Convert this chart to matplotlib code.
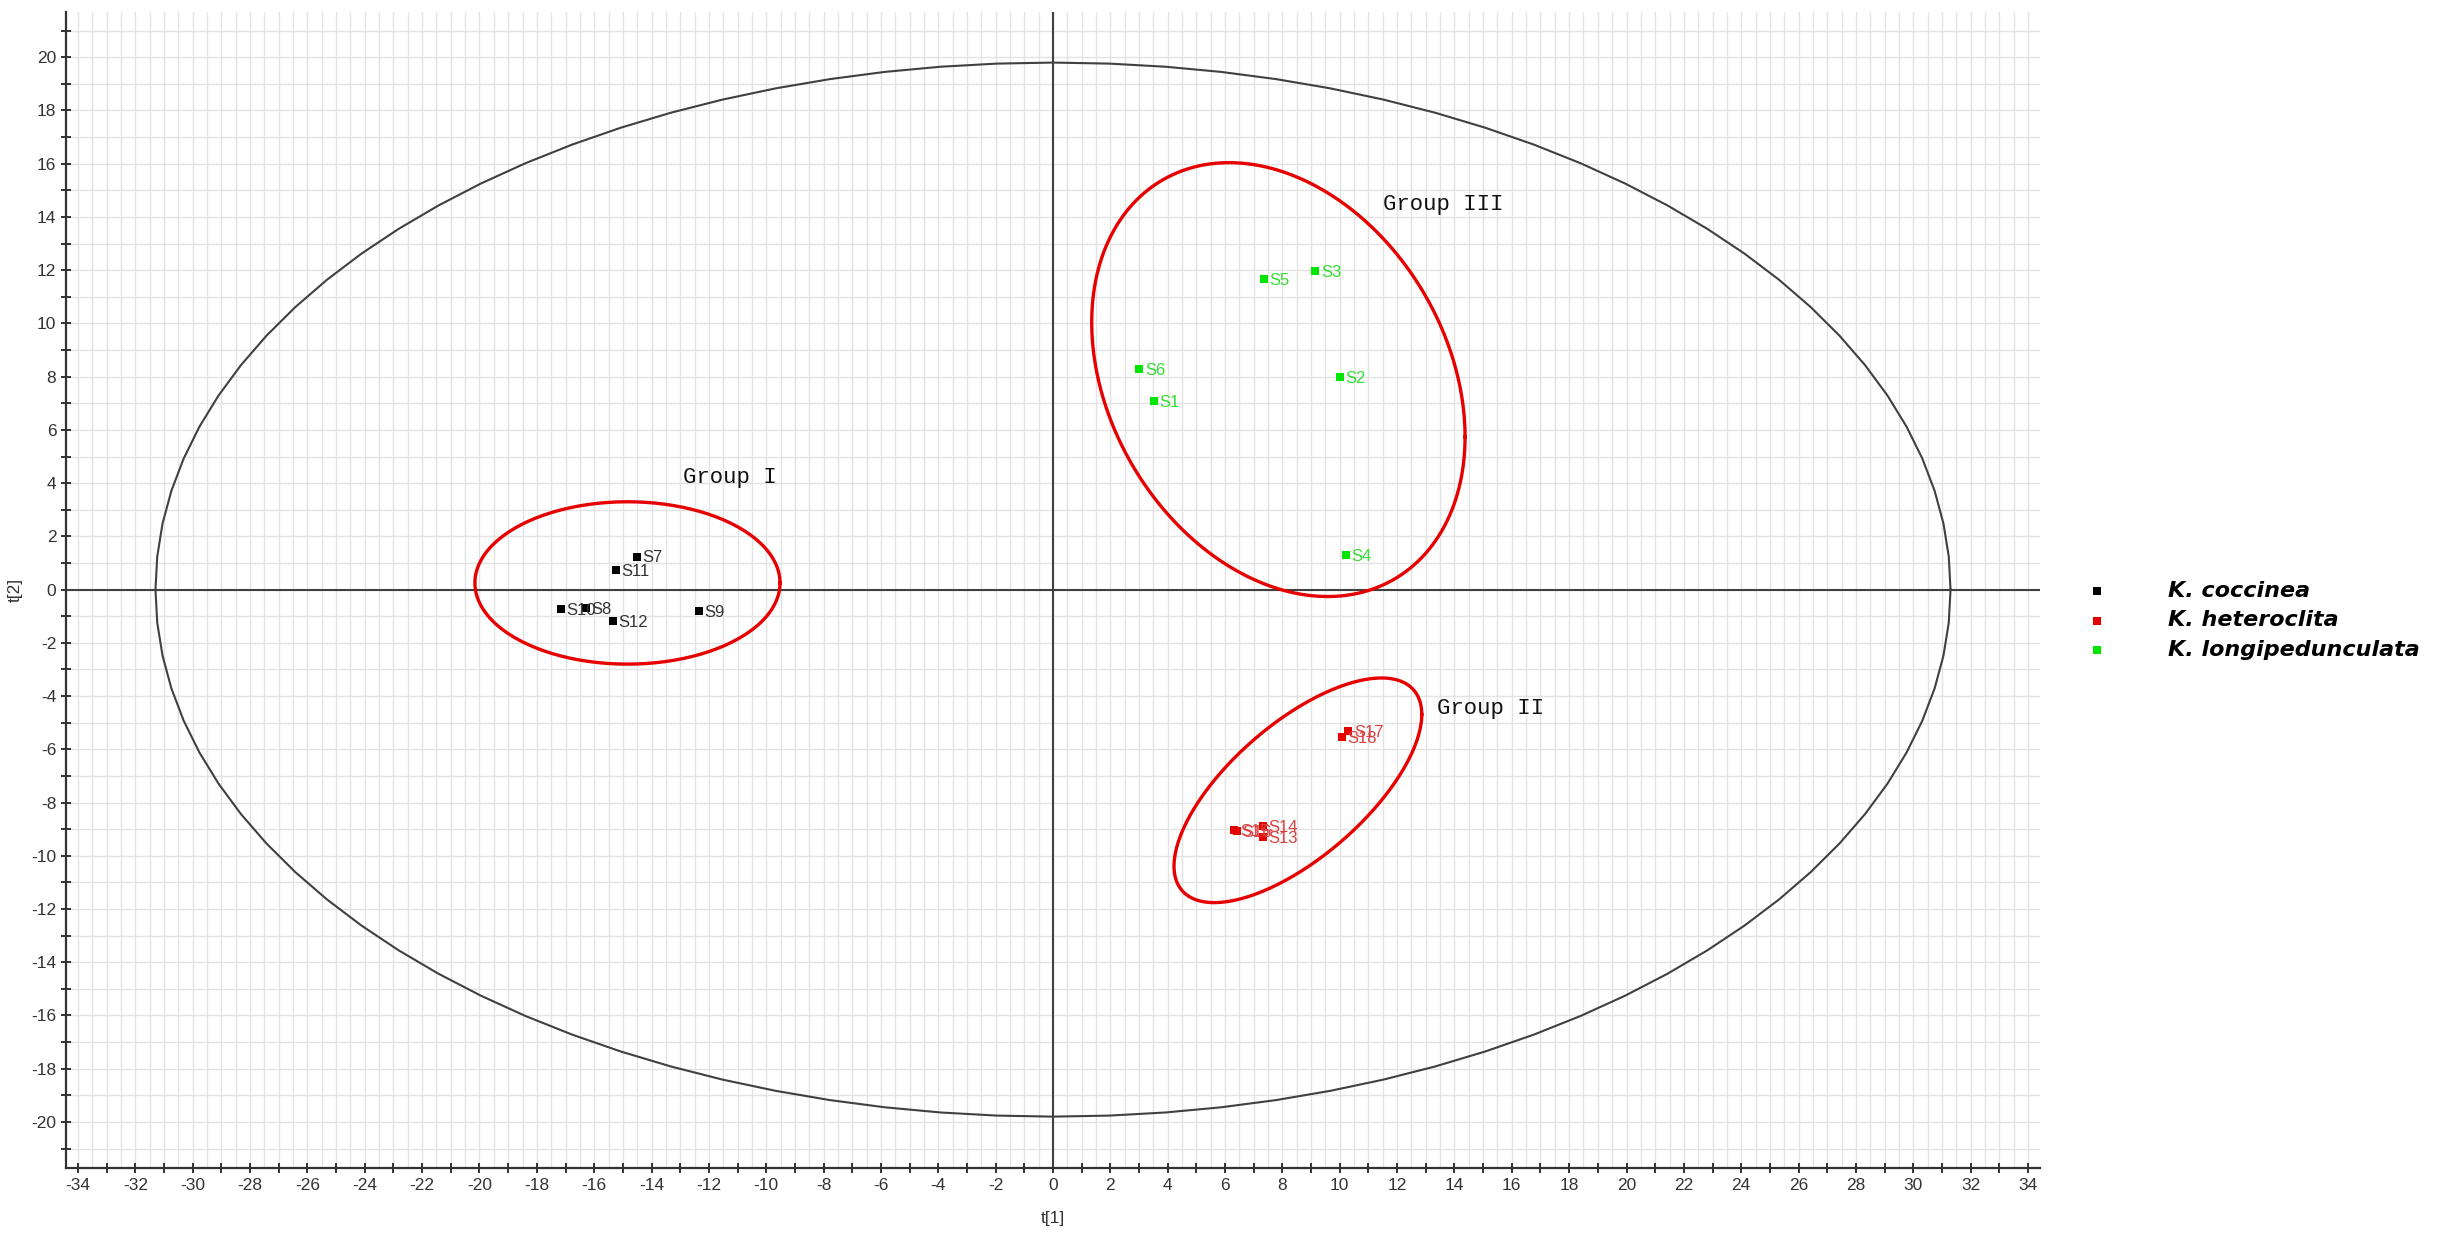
import numpy as np
import matplotlib.pyplot as plt

# score values (t[1], t[2])
especies = ['K. coccinea', 'K. heteroclita', 'K. longipedunculata']
colores = ['#000000', '#e60000', '#00e600']
colores_texto = ['#333333', '#d94040', '#33dd33']

muestras_coccinea = ['S7', 'S8', 'S9', 'S10', 'S11', 'S12']
t1_coccinea = [-14.52, -16.29, -12.34, -17.17, -15.25, -15.35]
t2_coccinea = [1.24, -0.69, -0.82, -0.73, 0.74, -1.17]

muestras_heteroclita = ['S13', 'S14', 'S15', 'S16', 'S17', 'S18']
t1_heteroclita = [7.33, 7.33, 6.32, 6.42, 10.30, 10.07]
t2_heteroclita = [-9.31, -8.87, -9.05, -9.06, -5.30, -5.53]

muestras_longi = ['S1', 'S2', 'S3', 'S4', 'S5', 'S6']
t1_longi = [3.53, 10.00, 9.15, 10.22, 7.36, 3.01]
t2_longi = [7.10, 8.00, 11.97, 1.30, 11.68, 8.30]

# Hotelling T2 ellipse (semi-axes)
t2_hotelling = [31.3, 19.8]

# group ellipses: centre x, centre y, var x, var y, cov xy
grupos = ['Group I', 'Group II', 'Group III']
elipses = [
    [-14.84, 0.25, 5.32 ** 2, 3.05 ** 2, 0.0],
    [8.54, -7.54, 4.32 ** 2, 4.22 ** 2, 12.3],
    [7.86, 7.89, 6.51 ** 2, 8.15 ** 2, -14.0],
]
pos_grupos = [(-12.9, 4.2), (13.4, -4.45), (11.5, 14.45)]


def elipse(cx, cy, sxx, syy, sxy, n=200):
    L = np.linalg.cholesky(np.array([[sxx, sxy], [sxy, syy]]))
    t = np.linspace(0, 2 * np.pi, n)
    pts = L @ np.vstack([np.cos(t), np.sin(t)])
    return cx + pts[0], cy + pts[1]


def generar_grafico():
    fig = plt.figure(figsize=(24.41, 12.37), dpi=100)
    ax = fig.add_axes([66 / 2441, 1 - 1168 / 1237, 1974 / 2441, 1156 / 1237])

    ax.set_xlim(-34.42, 34.42)
    ax.set_ylim(-21.73, 21.7)

    # grid (ticks every 1, grid every 0.5 in x)
    ax.set_xticks(np.arange(-34, 35, 2))
    ax.set_xticks(np.arange(-34, 35, 1), minor=True)
    ax.set_yticks(np.arange(-20, 21, 2))
    ax.set_yticks(np.arange(-21, 22, 1), minor=True)
    ax.grid(True, which='both', color='#e3e3e3', linewidth=1.0)
    ax.vlines(np.arange(-34.5, 34.6, 1), -21.73, 21.7, color='#e3e3e3',
              linewidth=1.0, zorder=0)
    ax.set_axisbelow(True)

    ax.axhline(0, color='#404040', linewidth=1.5, zorder=1)
    ax.axvline(0, color='#404040', linewidth=1.5, zorder=1)

    # hotelling
    t = np.linspace(0, 2 * np.pi, 101)
    ax.plot(t2_hotelling[0] * np.cos(t), t2_hotelling[1] * np.sin(t),
            color='#404040', linewidth=1.5, zorder=2)

    # grupos
    for e in elipses:
        xe, ye = elipse(*e)
        ax.plot(xe, ye, color='#e60000', linewidth=2.4, zorder=3)
    for nombre, (gx, gy) in zip(grupos, pos_grupos):
        ax.text(gx, gy, nombre, fontsize=16, family='Liberation Mono',
                color='#111111', va='center', ha='left')

    series = [
        (muestras_coccinea, t1_coccinea, t2_coccinea),
        (muestras_heteroclita, t1_heteroclita, t2_heteroclita),
        (muestras_longi, t1_longi, t2_longi),
    ]
    for i, (nombres, xs, ys) in enumerate(series):
        ax.scatter(xs, ys, marker='s', s=40, color=colores[i], linewidths=0,
                   zorder=4, label=especies[i])
        for n, x, y in zip(nombres, xs, ys):
            ax.annotate(n, (x, y), xytext=(4, -1), textcoords='offset points',
                        fontsize=12, family='Liberation Sans', color=colores_texto[i],
                        va='center', ha='left', zorder=5)

    # ejes
    for lado in ['top', 'right']:
        ax.spines[lado].set_visible(False)
    for lado in ['left', 'bottom']:
        ax.spines[lado].set_color('#333333')
        ax.spines[lado].set_linewidth(1.6)
    ax.tick_params(which='both', direction='inout', length=7, width=1.4,
                   color='#333333', labelsize=12.5, labelcolor='#333333')
    ax.tick_params(axis='x', pad=4)
    ax.set_xticklabels([str(v) for v in range(-34, 35, 2)], family='Liberation Sans')
    ax.set_yticklabels([str(v) for v in range(-20, 21, 2)], family='Liberation Sans')

    fig.text(1053 / 2441, 1 - 1219 / 1237, 't[1]', fontsize=12.5, color='#333333',
             family='Liberation Sans', ha='center', va='center')
    fig.text(15 / 2441, 1 - 590 / 1237, 't[2]', fontsize=12.5, color='#333333',
             family='Liberation Sans', ha='center', va='center', rotation=90)

    fig.legend(loc='upper left', bbox_to_anchor=(2086 / 2441, 1 - 581 / 1237),
               frameon=False, handlelength=1.0, handletextpad=2.7,
               labelspacing=0.42, borderaxespad=0, borderpad=0, markerscale=1.0,
               prop={'family': 'DejaVu Sans', 'weight': 'bold', 'style': 'italic',
                     'size': 16})

    fig.savefig('out.png', dpi=100)


if __name__ == '__main__':
    generar_grafico()
